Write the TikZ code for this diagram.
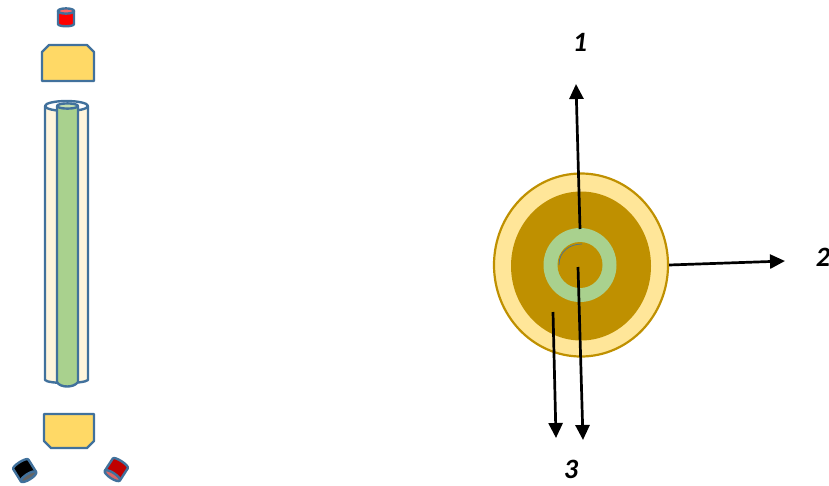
\documentclass[tikz,border=0pt]{standalone}
\usepackage{fontspec}
\setmainfont{Carlito}
\usetikzlibrary{arrows.meta,shapes.geometric}
\definecolor{edgeblue}{HTML}{41719C}
\definecolor{lensyellow}{HTML}{FFD966}
\definecolor{rodgreen}{HTML}{A9D18E}
\definecolor{darkgold}{HTML}{BF9000}
\definecolor{paleyellow}{HTML}{FFE699}
\definecolor{tubecream}{HTML}{FFF5DC}
\begin{document}
\begin{tikzpicture}[
	x=1pt, y=-1pt,
	edge/.style={ draw=edgeblue, line width=2.4pt, line join=round },
	disc/.style={ ellipse, inner sep=0pt },
	beam/.style={ black, line width=2.7pt, -{Triangle[length=15pt,width=14pt]} },
	beamlabel/.style={ font=\fontsize{28}{32}\selectfont\bfseries\itshape, inner sep=0pt },
	detector/.pic={
		\draw [edge, fill=#1] (-8,-6) -- (-8,7) .. controls (-8,10) and (8,10) .. (8,7) -- (8,-6) -- cycle;
		\draw [edge, fill=#1!60!white] (0,-6) ellipse [x radius=8, y radius=2.6];
	}
]

\useasboundingbox (0,0) rectangle (829,485);

\pic at (66,17) {detector=red};
\pic at (25,471) [rotate=-148, scale=1.12] {detector=black};
\pic at (116,470) [rotate=147, scale=1.12] {detector={red!75!black}};

\draw [edge, fill=lensyellow] (42,81) -- (42,52) -- (49,45) -- (87,45) -- (94,52) -- (94,81) -- cycle;
\draw [edge, fill=lensyellow] (44,414) -- (94,414) -- (94,441) -- (87,448) -- (51,448) -- (44,441) -- cycle;

\draw [edge, fill=tubecream] (45,106) -- (45,380) .. controls (48,384) and (84,384) .. (88,380) -- (88,106);
\draw [edge, fill=white] (66.5,106) ellipse [x radius=21.5, y radius=5];
\draw [edge, fill=rodgreen] (57,106) -- (57,382) .. controls (60,388) and (74,388) .. (78,382) -- (78,106) -- cycle;
\draw [edge, fill=rodgreen!70!white] (67.5,106) ellipse [x radius=10.5, y radius=2.6];

\node at (581,265) (outer) [disc, draw=darkgold, line width=2.2pt, fill=paleyellow, minimum width=174pt, minimum height=183pt] {};
\node at (581,266) (inner) [disc, fill=darkgold, minimum width=140pt, minimum height=149pt] {};
\node at (580,265) (ring) [disc, fill=rodgreen, minimum width=73pt, minimum height=74pt] {};
\node at (580,265) (core) [disc, fill=darkgold, minimum width=45pt, minimum height=46pt] {};
\draw [edgeblue, line width=0.7pt] (559,265) .. controls (559,251) and (570,244) .. (582,244);

\coordinate (startone) at (580,229);
\coordinate (endone) at (576,84);
\coordinate (endtwo) at (785,261);
\coordinate (startthree) at (553,312);
\coordinate (endthree) at (556,438);
\coordinate (startfour) at (578,267);
\coordinate (endfour) at (583,440);

\draw [beam] (startone) to (endone);
\draw [beam] (outer.east) to (endtwo);
\draw [beam] (startthree) to (endthree);
\draw [beam] (startfour) to (endfour);

\node at (580,42) (one) [beamlabel] {1};
\node at (823,257) (two) [beamlabel] {2};
\node at (571,469) (three) [beamlabel] {3};

\end{tikzpicture}
\end{document}
